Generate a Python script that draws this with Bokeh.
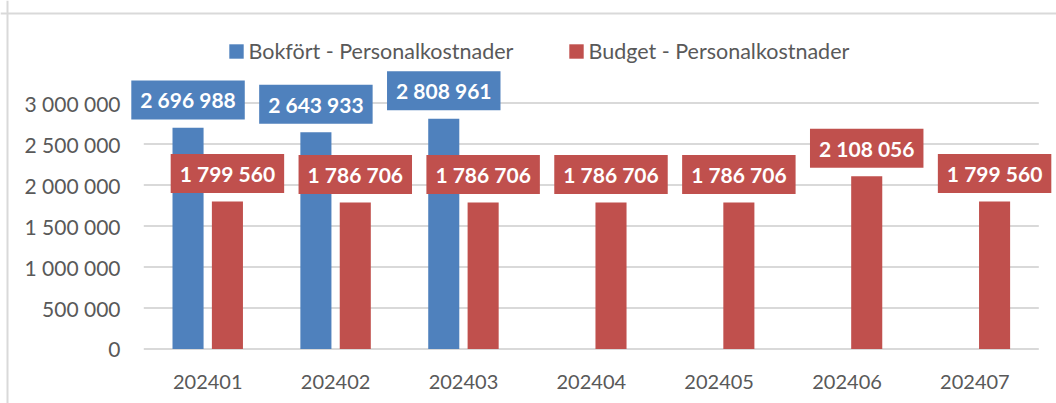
from bokeh.plotting import figure
from bokeh.models import ColumnDataSource, Range1d, Label, Legend, LegendItem, Span
from bokeh.core.properties import value
from bokeh.embed import file_html
from bokeh.resources import INLINE

# ---- data ----
months = ["202401", "202402", "202403", "202404", "202405", "202406", "202407"]
bokfort = [2696988, 2643933, 2808961, None, None, None, None]
budget = [1799560, 1786706, 1786706, 1786706, 1786706, 2108056, 1799560]
series_names = ["Bokfört - Personalkostnader", "Budget - Personalkostnader"]
y_ticks = [0, 500000, 1000000, 1500000, 2000000, 2500000, 3000000]
y_tick_labels = ["0", "500 000", "1 000 000", "1 500 000", "2 000 000", "2 500 000", "3 000 000"]

# ---- style / layout ----
BLUE = "#4f81bd"
RED = "#c0504d"
GREY_TXT = "#595959"
GRID = "#d9d9d9"
FONT = "Lato"
W, H = 1056, 403
PX_PER_CAT = 127.86          # px per category
X0_PX = 143.3                # canvas px of the plot-area left edge
PX_PER_Y = 41.0 / 500000     # px per value unit
Y0_PX = 348.5                # canvas px (from top) of the zero line
OFF, BW = 0.154, 0.243       # dodge offset and bar width (category units)


def fmt(v):
    return f"{v:,}".replace(",", " ")


xc = [i + 0.5 for i in range(len(months))]        # category centres
b_idx = [i for i, v in enumerate(bokfort) if v is not None]
src_b = ColumnDataSource(dict(x=[xc[i] - OFF for i in b_idx],
                              y=[bokfort[i] for i in b_idx],
                              label=[fmt(bokfort[i]) for i in b_idx]))
src_r = ColumnDataSource(dict(x=[c + OFF for c in xc], y=budget,
                              label=[fmt(v) for v in budget]))

x_range = Range1d(-X0_PX / PX_PER_CAT, (W - X0_PX) / PX_PER_CAT)
y_range = Range1d(-(H - Y0_PX) / PX_PER_Y, Y0_PX / PX_PER_Y)

p = figure(x_range=x_range, y_range=y_range, width=W, height=H,
           x_axis_type=None, y_axis_type=None,
           output_backend="svg", toolbar_location=None,
           min_border_left=0, min_border_right=0, min_border_top=0, min_border_bottom=0)
p.outline_line_color = None
p.background_fill_color = "white"
p.border_fill_color = "white"
p.xgrid.visible = False
p.ygrid.visible = False

# chart-area border (top and left)
p.add_layout(Span(location=y_range.end - 13 / PX_PER_Y, dimension="width",
                  line_color=GRID, line_width=2))
p.add_layout(Span(location=x_range.start + 7 / PX_PER_CAT, dimension="height",
                  line_color=GRID, line_width=2))

# gridlines
p.segment(x0=[0] * len(y_ticks), x1=[len(months)] * len(y_ticks), y0=y_ticks, y1=y_ticks,
          line_color=GRID, line_width=1.8)

# bars
rb = p.vbar(x="x", top="y", bottom=0, width=BW, source=src_b, fill_color=BLUE, line_color=None)
rr = p.vbar(x="x", top="y", bottom=0, width=BW, source=src_r, fill_color=RED, line_color=None)

# y tick labels
p.text(x=[0] * len(y_ticks), y=y_ticks, text=y_tick_labels, x_offset=-23.3,
       text_align="right", text_baseline="middle", text_font=value(FONT),
       text_font_size="21px", text_color=GREY_TXT)
# x category labels
p.text(x=xc, y=[0] * len(months), text=months, y_offset=33,
       text_align="center", text_baseline="middle", text_font=value(FONT),
       text_font_size="20px", text_color=GREY_TXT)

# data labels
label_kw = dict(text_align="center", text_baseline="bottom", text_color="white",
                text_font=FONT, text_font_style="bold", text_font_size="21px",
                padding=dict(x=9, y=7), y_offset=8.4)
for src, col in ((src_b, BLUE), (src_r, RED)):
    for xv, yv, tv in zip(src.data["x"], src.data["y"], src.data["label"]):
        p.add_layout(Label(x=xv, y=yv, text=tv, background_fill_color=col, **label_kw))

# legends (one per series, placed independently)
leg_kw = dict(orientation="horizontal", padding=0, margin=0,
              glyph_width=18, glyph_height=18, label_standoff=4,
              label_text_font=FONT, label_text_font_size="21.5px", label_text_color=GREY_TXT,
              border_line_color=None, background_fill_alpha=0)
p.add_layout(Legend(items=[LegendItem(label=series_names[0], renderers=[rb])],
                    location=(226.5, 339), **leg_kw))
p.add_layout(Legend(items=[LegendItem(label=series_names[1], renderers=[rr])],
                    location=(566.5, 339), **leg_kw))

open("out.html", "w").write(file_html(p, INLINE))
